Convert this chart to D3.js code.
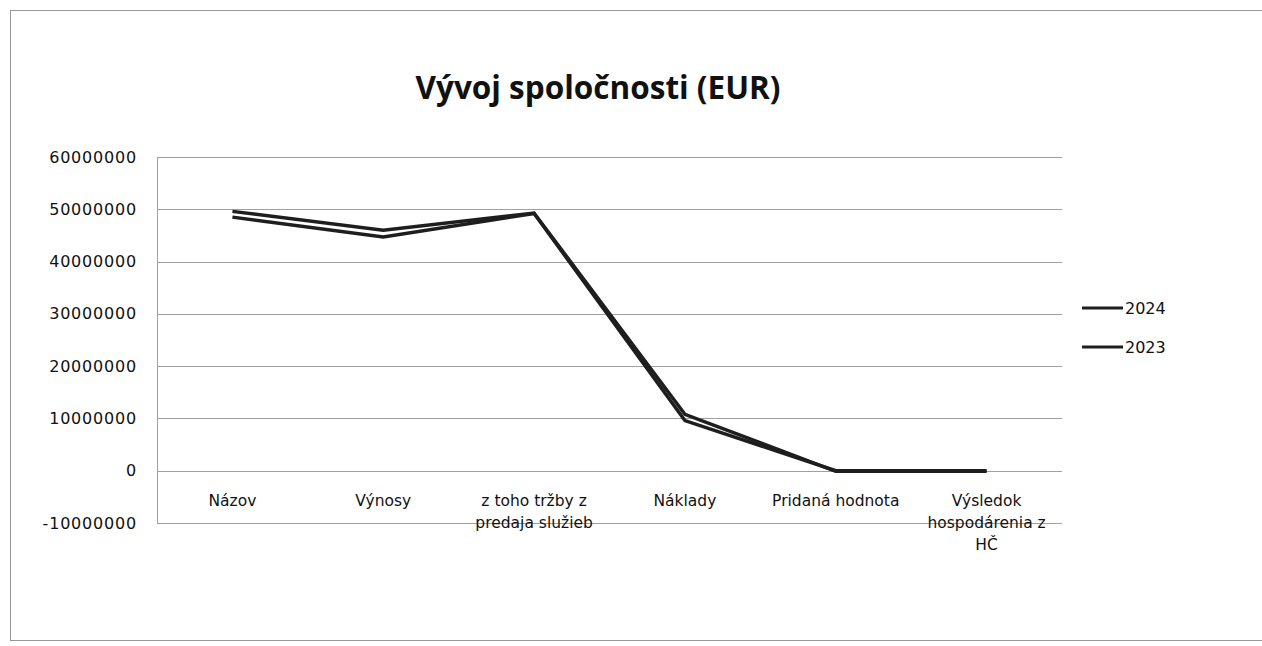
<!DOCTYPE html>
<html><head><meta charset="utf-8">
<script src="https://cdn.jsdelivr.net/npm/d3@7"></script>
<style>body{margin:0;background:#fff}svg{display:block}</style>
</head><body>
<svg id="c" width="1262" height="646"></svg>
<script>
const categories = ["Názov","Výnosy","z toho tržby z predaja služieb","Náklady","Pridaná hodnota","Výsledok hospodárenia z HČ"];
const categoryLines = [["Názov"],["Výnosy"],["z toho tržby z","predaja služieb"],["Náklady"],["Pridaná hodnota"],["Výsledok","hospodárenia z","HČ"]];
const seriesNames = ["2024","2023"];
const values2024 = [49600000, 46000000, 49300000, 10800000, -100000, -100000];
const values2023 = [48500000, 44700000, 49200000, 9600000, 0, 0];
const yTicks = [-10000000,0,10000000,20000000,30000000,40000000,50000000,60000000];
const title = "Vývoj spoločnosti (EUR)";

const svg = d3.select("#c");
const font = "'DejaVu Sans',sans-serif";
const tfont = "'Open Sans','DejaVu Sans',sans-serif";
svg.append("rect").attr("x",10.5).attr("y",10.5).attr("width",1262).attr("height",630)
  .attr("fill","#fff").attr("stroke","#999").attr("stroke-width",1);

const L=157,R=1062,T=157,B=523;
const x = d3.scaleBand().domain(categories).range([L,R]);
const y = d3.scaleLinear().domain([-10000000,60000000]).range([B,T]);

svg.append("text").attr("x",598).attr("y",99).attr("text-anchor","middle")
  .attr("font-family",tfont).attr("font-weight","bold").attr("font-size",31.5).attr("fill","#111").text(title);

const g = svg.append("g");
g.selectAll("line.grid").data(yTicks).join("line").attr("class","grid")
  .attr("x1",L).attr("x2",R).attr("y1",d=>Math.round(y(d))+0.5).attr("y2",d=>Math.round(y(d))+0.5)
  .attr("stroke","#a0a0a0").attr("stroke-width",1);
g.append("line").attr("x1",L+0.5).attr("x2",L+0.5).attr("y1",T).attr("y2",B).attr("stroke","#a0a0a0");

const yAxis = d3.axisLeft(y).tickValues(yTicks).tickSize(0).tickPadding(20).tickFormat(d=>String(d));
const ya = svg.append("g").attr("transform",`translate(${L},0)`).call(yAxis);
ya.select(".domain").remove();
ya.selectAll("text").attr("font-family",font).attr("font-size",16).attr("letter-spacing",0.8).attr("fill","#111");

categories.forEach((c,i)=>{
  const t = svg.append("text").attr("text-anchor","middle").attr("font-family",font).attr("font-size",15.5).attr("fill","#111");
  categoryLines[i].forEach((ln,j)=>{
    t.append("tspan").attr("x",x(c)+x.bandwidth()/2).attr("y",506+j*22).text(ln);
  });
});

const line = d3.line().x((d,i)=>x(categories[i])+x.bandwidth()/2).y(d=>y(d));
[values2023, values2024].forEach(vals=>{
  svg.append("path").datum(vals).attr("d",line).attr("fill","none")
    .attr("stroke","#1e1e1e").attr("stroke-width",3.4).attr("stroke-linejoin","miter");
});

seriesNames.forEach((s,i)=>{
  const yy = 308 + i*39;
  svg.append("line").attr("x1",1082).attr("x2",1123).attr("y1",yy).attr("y2",yy).attr("stroke","#1e1e1e").attr("stroke-width",3.2);
  svg.append("text").attr("x",1125).attr("y",yy+6).attr("font-family",font).attr("font-size",16).attr("fill","#111").text(s);
});
</script>
</body></html>
